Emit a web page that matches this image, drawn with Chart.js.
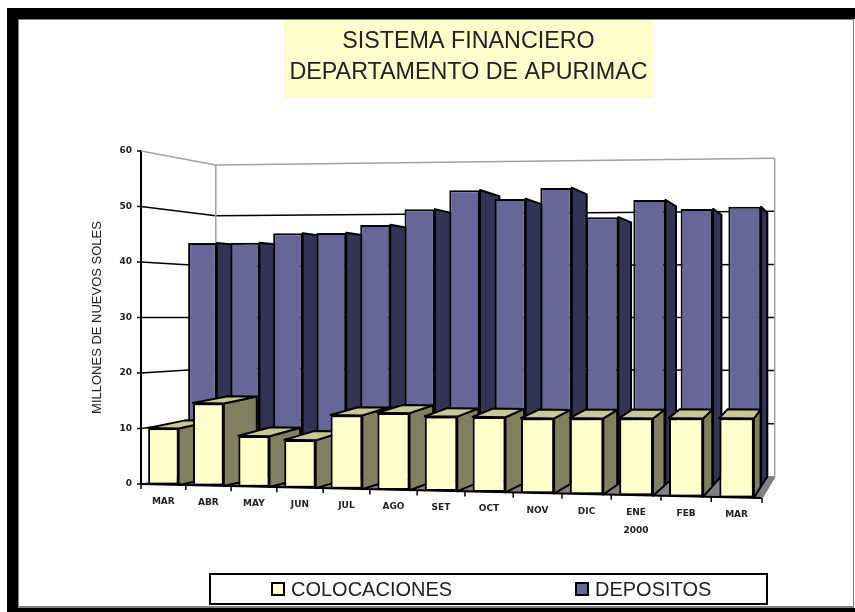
<!DOCTYPE html>
<html>
<head>
<meta charset="utf-8">
<title>Sistema financiero Apurimac</title>
<script src="https://cdn.jsdelivr.net/npm/chart.js@4"></script>
<style>
  html, body { margin: 0; padding: 0; background: #fff; }
  canvas { display: block; }
</style>
</head>
<body>
<canvas id="myChart" width="855" height="612"></canvas>
<script>
const meses = ["MAR", "ABR", "MAY", "JUN", "JUL", "AGO", "SET", "OCT", "NOV", "DIC", ["ENE", "2000"], "FEB", "MAR"];
const colocaciones = [10.1, 14.7, 9.0, 8.4, 12.9, 13.4, 12.9, 12.9, 12.8, 12.9, 13.0, 13.1, 13.2];
const depositos = [44.0, 44.0, 45.7, 45.7, 47.1, 49.9, 53.3, 51.6, 53.5, 48.1, 51.1, 49.4, 49.7];
const titulo = ["SISTEMA FINANCIERO", "DEPARTAMENTO DE APURIMAC"];
const ejeY = "MILLONES DE NUEVOS SOLES";

// profundidad de cada fila de barras y de la pared del fondo
const filas = [
  { z0: 0, z1: 0.05, lado: "#808060", techo: "#c8c898", alza: 3 },
  { z0: 0.054, z1: 0.1, lado: "#333355", techo: null, alza: 0 },
];
const zFondo = 0.1;

// perspectiva a ojo sobre los pixeles que dan las escalas
function proyectar(chart, x, y, z) {
  const area = chart.chartArea;
  const t = (x - area.left) / (area.right - area.left);
  const f = 1 + (0.084 - 0.4 * z) * t;
  return {
    x: 889 + (x - 889) * (1 - z) - 42 * t * (1 - t),
    y: 317 + (y - 317) * (1 - 0.84 * z) * f,
  };
}

function poligono(ctx, puntos, relleno, borde, ancho) {
  ctx.beginPath();
  puntos.forEach((p, i) => (i ? ctx.lineTo(p.x, p.y) : ctx.moveTo(p.x, p.y)));
  ctx.closePath();
  ctx.fillStyle = relleno;
  ctx.fill();
  ctx.strokeStyle = borde;
  ctx.lineWidth = ancho;
  ctx.lineJoin = "round";
  ctx.stroke();
}

function linea(ctx, a, b, color, ancho) {
  ctx.beginPath();
  ctx.moveTo(a.x, a.y);
  ctx.lineTo(b.x, b.y);
  ctx.strokeStyle = color;
  ctx.lineWidth = ancho;
  ctx.stroke();
}

const fondo = {
  id: "fondo",
  beforeDraw(chart) {
    const ctx = chart.ctx;
    ctx.save();
    ctx.fillStyle = "#fff";
    ctx.fillRect(0, 0, 855, 612);
    ctx.fillStyle = "#000";
    ctx.fillRect(7, 8, 848, 11);
    ctx.fillRect(7, 8, 11, 604);
    ctx.fillRect(7, 608, 848, 4);
    ctx.fillStyle = "#808080";
    ctx.fillRect(18, 19, 836, 1);
    ctx.fillRect(18, 19, 1, 589);
    ctx.fillRect(18, 606, 836, 2);
    ctx.fillRect(853, 19, 1, 589);
    ctx.fillStyle = "#ffffcc";
    ctx.fillRect(284, 20, 369, 78);
    ctx.fillStyle = "#222";
    ctx.font = '23.3px "Liberation Sans"';
    ctx.textAlign = "center";
    ctx.textBaseline = "middle";
    ctx.fillText(titulo[0], 468.5, 42);
    ctx.fillText(titulo[1], 468.5, 73);
    ctx.restore();
  },
};

const perspectiva = {
  id: "perspectiva",
  // cada barra pasa de su sitio en la escala a su sitio proyectado
  afterDatasetsUpdate(chart) {
    chart.data.datasets.forEach((ds, d) => {
      const fila = filas[d];
      chart.getDatasetMeta(d).data.forEach((el) => {
        const l = el.x - el.width / 2;
        const r = el.x + el.width / 2;
        el.plano = { l, r, top: el.y, base: el.base };
        const a = proyectar(chart, l, el.y, fila.z0);
        const b = proyectar(chart, r, el.y, fila.z0);
        const c = proyectar(chart, el.x, el.base, fila.z0);
        el.x = (a.x + b.x) / 2;
        el.width = b.x - a.x;
        el.y = (a.y + b.y) / 2;
        el.base = c.y;
        el.height = el.base - el.y;
      });
    });
  },
  beforeDatasetsDraw(chart) {
    const ctx = chart.ctx;
    const { left, right } = chart.chartArea;
    const escala = chart.scales.y;
    const y0 = escala.getPixelForValue(0);
    const yMax = escala.getPixelForValue(escala.max);
    ctx.save();

    // piso
    poligono(ctx, [
      proyectar(chart, left, y0, 0),
      proyectar(chart, right, y0, 0),
      proyectar(chart, right, y0, zFondo),
      proyectar(chart, left, y0, zFondo),
    ], "#808080", "#808080", 1);

    // rejilla en pared izquierda y pared del fondo
    escala.ticks.forEach((tick) => {
      const y = escala.getPixelForValue(tick.value);
      const color = tick.value === escala.max ? "#a0a0a0" : "#000";
      const a = proyectar(chart, left, y, 0);
      const b = proyectar(chart, left, y, zFondo);
      const c = proyectar(chart, right, y, zFondo);
      if (tick.value > 0) {
        linea(ctx, a, b, color, 1.5);
        linea(ctx, b, c, color, 1.5);
      }
      linea(ctx, { x: a.x - 4, y: a.y }, a, "#000", 1.5);
    });
    linea(ctx, proyectar(chart, left, y0, zFondo), proyectar(chart, left, yMax, zFondo), "#a0a0a0", 1.5);
    linea(ctx, proyectar(chart, right, y0, zFondo), proyectar(chart, right, yMax, zFondo), "#a0a0a0", 1.5);
    ctx.restore();
  },
  beforeDatasetDraw(chart, args) {
    const ctx = chart.ctx;
    const fila = filas[args.index];
    ctx.save();
    args.meta.data.forEach((el) => {
      const p = el.plano;
      const frenteArriba = proyectar(chart, p.r, p.top, fila.z0);
      const fondoArriba = proyectar(chart, p.r, p.top, fila.z1);
      const frenteAbajo = proyectar(chart, p.r, p.base, fila.z0);
      const fondoAbajo = proyectar(chart, p.r, p.base, fila.z1);
      fondoArriba.y -= fila.alza;
      poligono(ctx, [frenteArriba, fondoArriba, fondoAbajo, frenteAbajo], fila.lado, "#000", 2);
      if (fila.techo) {
        const izq = proyectar(chart, p.l, p.top, fila.z1);
        izq.y -= fila.alza;
        poligono(ctx, [proyectar(chart, p.l, p.top, fila.z0), izq, fondoArriba, frenteArriba], fila.techo, "#000", 2);
      }
    });
    ctx.restore();
  },
  afterDraw(chart) {
    const ctx = chart.ctx;
    const { left, right } = chart.chartArea;
    const escalaX = chart.scales.x;
    const y0 = chart.scales.y.getPixelForValue(0);
    ctx.save();

    // eje de categorias inclinado, con sus marcas y textos
    linea(ctx, proyectar(chart, left, y0, 0), proyectar(chart, right, y0, 0), "#000", 2);
    linea(ctx, proyectar(chart, right, y0, 0), proyectar(chart, right, y0, zFondo), "#808080", 1.5);
    for (let i = 0; i <= meses.length; i++) {
      const x = left + (i * (right - left)) / meses.length;
      const p = proyectar(chart, x, y0, 0);
      linea(ctx, p, { x: p.x, y: p.y + 5 }, "#000", 1.5);
    }
    ctx.fillStyle = "#222";
    ctx.font = 'bold 9px "DejaVu Sans"';
    ctx.textAlign = "center";
    ctx.textBaseline = "middle";
    meses.forEach((mes, i) => {
      const p = proyectar(chart, escalaX.getPixelForTick(i), y0, 0);
      const lineas = Array.isArray(mes) ? mes : [mes];
      lineas.forEach((texto, j) => ctx.fillText(texto, p.x, p.y + 17 + j * 18));
    });

    // leyenda
    ctx.fillStyle = "#fff";
    ctx.fillRect(210, 574, 557, 30);
    ctx.strokeStyle = "#000";
    ctx.lineWidth = 2;
    ctx.strokeRect(210, 574, 557, 30);
    ctx.font = '20px "Liberation Sans"';
    ctx.textAlign = "left";
    [272, 576].forEach((x, i) => {
      const ds = chart.data.datasets[i];
      ctx.fillStyle = ds.backgroundColor;
      ctx.fillRect(x, 583, 12, 12);
      ctx.strokeRect(x, 583, 12, 12);
      ctx.fillStyle = "#222";
      ctx.fillText(ds.label, x + 19, 590);
    });
    ctx.restore();
  },
};

new Chart(document.getElementById("myChart"), {
  type: "bar",
  data: {
    labels: meses,
    datasets: [
      { label: "COLOCACIONES", data: colocaciones, backgroundColor: "#ffffcc", borderColor: "#000", borderWidth: 2, borderSkipped: false, clip: false },
      { label: "DEPOSITOS", data: depositos, backgroundColor: "#666699", borderColor: "#000", borderWidth: 2, borderSkipped: false, clip: false },
    ],
  },
  options: {
    responsive: false,
    animation: false,
    events: [],
    layout: { padding: { left: 90, right: 93, top: 151, bottom: 128 } },
    datasets: { bar: { grouped: false, barPercentage: 0.68, categoryPercentage: 1 } },
    plugins: { legend: { display: false }, tooltip: { enabled: false } },
    scales: {
      x: { display: false },
      y: {
        min: 0,
        max: 60,
        afterFit(scale) { scale.width = 51; },
        grid: { display: false },
        border: { display: true, color: "#000", width: 2 },
        ticks: { stepSize: 10, padding: 1, color: "#222", font: { family: "DejaVu Sans", size: 9, weight: "bold" } },
        title: { display: true, text: ejeY, color: "#222", padding: 0, font: { family: "Liberation Sans", size: 13 } },
      },
    },
  },
  plugins: [fondo, perspectiva],
});
</script>
</body>
</html>
